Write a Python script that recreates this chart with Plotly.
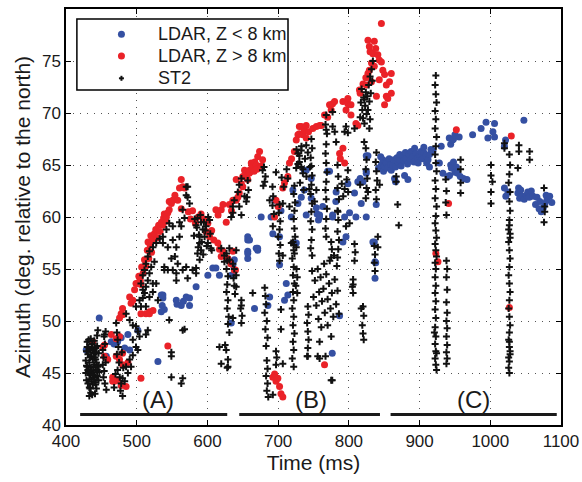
import plotly.graph_objects as go

# ---------------- data: (time in ms, azimuth in deg) ----------------
# LDAR sources below 8 km
ldar_low = [
    (428.6, 47.2), (447, 50.3), (464, 48.0), (473, 48.0), (483, 47.4), (490, 47.2), (487.5, 48.7),
    (501.6, 49.1), (457, 46.6), (530, 46.1), (478, 48.4), (468, 47.8),
    (534.7, 52.5), (537, 52.2), (539, 51.1), (534.7, 50.9), (536, 51.5), (537, 52.5), (556, 52.0),
    (557, 51.6), (563, 51.5), (566, 51.9), (570, 52.3), (574.7, 52.2), (574.7, 51.5), (584, 53.3),
    (600.6, 54.4), (607.6, 55.1), (612, 55.1), (617, 54.4), (633.7, 54.4), (636, 55.4), (638, 55.9),
    (636, 54.4), (633.7, 49.8),
    (657, 57.8), (657, 56.0), (671, 56.8), (657, 58.1), (657, 56.7), (669, 57.0), (659.5, 57.8),
    (671, 57.0), (657, 56.5), (676, 60.0), (690, 60.0), (695, 61.6), (692.5, 58.4), (702, 58.1),
    (704, 60.6), (666.6, 51.2), (688, 52.3), (685.5, 51.5), (702, 55.4), (711.5, 53.6), (713.7, 52.5),
    (709, 52.0), (720.8, 62.6), (718.6, 60.0), (725.6, 57.5), (728, 61.3), (732.7, 61.9), (737, 62.6),
    (737, 64.5), (739.7, 64.5), (739.7, 60.2), (746.8, 61.8), (746.8, 63.7), (755, 60.3), (757, 59.7),
    (754, 60.9), (758.6, 60.0), (758.6, 60.2), (763, 61.0), (770, 64.4), (772.7, 64.4), (777, 60.2),
    (777, 60.0), (781.6, 61.5), (782, 62.4), (786.9, 50.5), (776.5, 46.9), (791.6, 57.6), (796, 58.1),
    (794, 60.0), (798.6, 63.2), (801, 60.4), (808, 62.3), (810, 60.0), (812.7, 63.4), (816, 63.7),
    (817.5, 61.3), (820, 63.4), (824.6, 60.0), (824.6, 64.2), (824.6, 64.4), (824.6, 65.9),
    (827, 65.9), (834, 57.6), (836, 57.6), (837, 55.7), (837, 54.1), (838, 55.6), (838.7, 61.2),
    (842, 64.7),
    (845, 65.8), (846, 65.0), (848, 65.5), (849, 64.4), (850, 64.9), (852, 65.3), (853, 65.2),
    (855, 64.7), (857, 65.6), (859, 65.0), (860, 64.5), (862, 65.0), (864, 65.5), (866, 64.8),
    (868, 65.7), (870, 65.2), (871.7, 65.5), (872, 66.0), (874, 64.9), (876, 65.9), (878, 65.4),
    (880, 66.2), (881, 65.6), (883, 65.1), (885, 66.0), (887, 65.5), (888, 66.3), (890.5, 65.8),
    (892, 65.3), (893, 66.6), (895, 66.1), (897, 65.7), (898, 65.2), (900, 66.0), (902, 66.3),
    (904, 65.6), (906, 66.2), (906, 66.7), (909, 65.9), (910, 65.2), (912, 65.5), (914, 66.0),
    (914, 64.8), (916, 66.5), (919, 66.4),
    (864.6, 63.7), (866, 63.4), (878.8, 64.0), (883.5, 63.6),
    (928, 65.2), (930.6, 66.8), (933, 64.2), (940, 63.9), (942, 67.6), (942.4, 64.0), (944, 67.0),
    (944, 65.0), (945, 64.7), (946.6, 67.4), (948, 67.5), (948, 65.3), (950, 67.9), (950, 64.3),
    (952, 64.8), (954, 64.2), (956, 67.7), (957.5, 63.9), (962, 63.7), (967, 63.6), (975, 67.9),
    (987, 68.5), (994, 69.1), (996.6, 67.6), (1003.7, 68.2), (1006, 69.0), (1006, 67.7),
    (1020, 66.8), (1021.6, 67.4), (1047.5, 69.3),
    (1020, 62.8), (1022, 62.0), (1025, 62.4), (1039, 62.3), (1040, 62.8), (1041.5, 61.8),
    (1043, 62.6), (1045, 62.0), (1048, 61.7), (1051, 62.1), (1053, 62.4), (1055, 61.9),
    (1058, 62.5), (1060.5, 62.0), (1064, 61.2), (1066, 61.9), (1069, 60.8), (1070, 61.5),
    (1072, 60.5), (1075, 60.9), (1077, 61.3), (1079, 62.1), (1080, 61.6), (1084, 62.0), (1087, 61.4),
]

# LDAR sources above 8 km
ldar_high = [
    (438, 48.0), (452, 47.5), (454.5, 46.6), (454.5, 47.7), (459, 46.3), (464, 48.7), (466, 44.6),
    (466, 44.2), (468.6, 44.2), (471, 48.3), (471, 46.6), (473, 44.3), (475.7, 46.3), (475.7, 48.5),
    (475.7, 50.3), (478, 43.8), (478, 50.7), (480, 51.2), (480, 50.6), (480, 46.9), (480, 45.8),
    (485, 43.7), (487.5, 46.0), (490, 52.3), (492, 51.7), (494.5, 52.0), (497, 53.0), (499, 53.6),
    (501.6, 53.6), (504, 53.8), (505, 53.9), (506, 53.5), (506, 50.7), (506, 44.5), (513, 50.7),
    (518, 50.9), (518, 50.7), (523, 51.0), (544, 47.6),
    (503, 54.3), (507, 55.2), (509, 54.6), (511, 55.9), (513, 55.3), (515, 56.8), (516, 57.6),
    (517, 56.0), (519, 57.3), (520, 58.2), (521, 56.6), (523, 57.8), (525, 58.4), (527, 58.8),
    (529, 58.0), (531, 59.2), (533, 58.6), (535, 59.5), (537, 59.2), (538, 59.9), (539, 60.3),
    (541, 59.6), (542, 60.0), (544, 60.4), (546, 60.7), (546, 61.5), (549, 61.3), (551, 61.6),
    (554, 62.1), (558, 61.6), (560.5, 62.8), (563, 63.6), (563, 60.8), (565, 62.9), (567.6, 62.8),
    (573, 60.5), (576, 59.8), (579, 60.6), (583, 59.4), (587, 60.0), (591, 60.3), (595, 59.8),
    (598, 58.6), (600.6, 59.4), (603, 58.1), (606, 58.7), (609, 57.8), (614.7, 57.5), (617, 56.9),
    (619.5, 56.2), (622, 56.7), (628.8, 56.0), (633, 55.5), (639.7, 54.9), (638, 54.9), (636, 56.7),
    (612, 60.7), (615, 60.2), (619.5, 60.7), (622, 61.2), (626.6, 59.5), (631, 61.2), (634, 60.6),
    (636, 61.6), (640.7, 61.6), (640.7, 63.6), (643, 61.9), (645, 62.3), (648, 63.2), (650, 62.9),
    (650, 63.9), (652.5, 64.5), (655, 64.0), (657, 63.6), (659, 64.2), (659.5, 64.5), (660, 64.3),
    (662, 65.2), (663, 64.9), (664, 64.8), (666, 64.4), (667, 65.3), (669, 65.0), (670, 64.6),
    (671, 65.8), (673.7, 66.3), (676, 64.9), (678, 65.5),
    (695, 60.0), (697, 61.6), (700, 61.0), (706.6, 62.8), (709, 63.3), (713.7, 63.9), (716, 65.2),
    (719, 65.6), (723, 66.3), (725.6, 67.4), (728, 67.9), (730, 68.0), (730, 68.7), (732.7, 68.7),
    (735, 67.9), (737, 68.4), (739.7, 68.8), (739.7, 67.6), (743, 68.2), (749, 68.5), (754, 68.7),
    (758.6, 68.8), (761, 68.8), (765.6, 69.8), (770, 69.6), (772.7, 70.8), (775, 70.3), (777, 70.9),
    (779.8, 71.1), (786.9, 66.1), (788, 65.6), (791.6, 66.6), (794, 65.2), (791.6, 71.1), (796, 70.3),
    (798.6, 70.9), (798.6, 71.4), (803, 70.8), (803, 69.8), (810, 69.0), (812.7, 68.8), (815, 72.2),
    (816, 71.9), (820, 72.8), (824, 73.4), (825, 72.7), (827, 73.8), (827, 77.0), (829, 76.4),
    (829, 74.1), (830, 75.9), (832, 74.8), (832, 73.0), (834, 75.7), (836, 76.9), (836, 74.5),
    (838, 76.2), (839, 71.6), (841, 75.6), (843, 75.1), (843, 73.2), (846, 78.6), (846, 74.9),
    (848, 74.1), (850.5, 73.7), (850.5, 70.8), (853, 72.7), (853, 71.6), (855, 71.4), (857.5, 73.0),
    (860, 73.8), (860, 71.9),
    (692.5, 44.6), (695, 44.9), (697, 44.2), (699.6, 44.5), (702, 43.7), (704, 43.0), (706.6, 42.7),
    (765.6, 45.8),
    (923, 56.5), (926, 55.7), (941, 61.3), (952, 68.4), (1027, 51.3), (1029.7, 67.8),
]

# ST2 sources, interval (A)
st2_a = [
    (428, 45.0), (428, 46.2), (429, 44.3), (429, 47.1), (430, 45.6), (430, 48.0), (430, 47.5),
    (431, 44.0), (431, 46.8), (432, 45.2), (432, 47.5), (433, 43.6), (433, 46.0), (433, 42.8),
    (434, 44.8), (434, 47.2), (435, 45.5), (435, 48.3), (435, 43.1), (436, 44.2), (436, 46.6),
    (437, 45.0), (437, 47.8), (437, 42.9), (438, 43.9), (438, 46.3), (439, 44.6), (439, 47.0),
    (440, 45.8), (440, 48.1), (441, 44.1), (441, 46.5), (441, 43.0), (442, 45.3), (442, 47.4),
    (443, 43.5), (443, 46.0), (444, 44.7), (444, 47.6), (444, 48.6), (445, 45.6), (445, 49.1),
    (446, 44.3), (446, 46.9), (447, 45.1),
    (429, 45.7), (431, 45.3), (433, 44.4), (434, 46.5), (436, 45.2), (436, 47.4), (438, 44.8),
    (438, 47.3), (440, 44.4), (440, 46.9), (442, 43.9), (442, 46.3), (444, 45.3), (446, 45.7),
    (432, 48.2), (434, 43.5), (439, 45.6), (443, 47.0),
    (452, 47.2), (453, 46.5), (452, 45.8), (454, 45.2), (453, 44.6), (455, 44.0), (456, 46.0),
    (457, 43.4), (455, 47.8), (454, 48.5), (456, 49.0), (454.5, 48.7),
    (471, 49.8), (472, 48.9), (473, 48.2), (474, 47.5), (472, 46.8), (475, 46.0), (473, 45.3),
    (476, 44.6), (478, 44.0), (477, 43.3), (480, 42.8), (479, 47.0), (481, 45.5), (483, 44.2),
    (470, 44.9), (468, 43.6),
    (485, 50.7), (490, 50.1), (494.5, 49.6), (499, 49.5), (501.6, 49.0), (504, 48.5), (494.5, 48.2),
    (499, 47.5), (501.6, 47.2), (494.5, 46.7), (490, 46.3), (485, 45.6), (492, 45.6), (487.5, 45.0),
    (480, 44.5), (513, 48.7), (515.7, 49.1),
    (508.6, 52.2), (511, 52.7), (513, 53.3), (515.7, 53.9), (518, 54.6), (520.5, 55.2), (508.6, 53.0),
    (504, 52.0), (499, 51.4), (506, 51.4), (513, 51.4), (518, 52.3), (522.8, 52.8), (527.6, 53.6),
    (525, 55.7), (522.8, 53.6), (530, 52.0), (539, 54.9), (556, 53.9), (546, 50.1),
    (565, 49.1), (567.6, 49.2), (549, 47.0), (549, 46.6), (549, 44.6), (565, 44.5), (563, 44.0),
    (579, 54.9), (584, 54.6), (570, 55.2), (556, 54.6), (544, 54.9),
    (570, 62.9), (572, 62.9), (570, 62.1), (572, 61.9), (574.7, 61.3), (565, 60.7), (567.6, 59.9),
    (560.5, 59.5), (563, 59.1), (551, 59.1), (546, 59.4), (542, 58.8), (537, 58.1), (532.5, 57.9),
    (527.6, 57.5), (523, 57.1), (518, 56.7), (515.7, 56.2), (513, 55.5), (511, 54.9), (508.6, 54.4),
    (506, 53.6), (511, 52.7), (537, 57.5), (544, 57.1), (551, 57.8), (556, 57.1), (560.5, 58.1),
    (554, 56.2), (549, 56.0), (558, 55.5), (539, 55.2), (551, 54.9), (565, 54.9), (572, 54.1),
    (584, 55.1), (589, 55.9), (586, 56.5), (589, 57.5), (589, 58.1), (584, 59.2), (586, 59.9),
    (591, 59.5), (593.5, 58.8), (596, 58.1), (591, 56.8), (598, 59.1), (600.6, 57.5), (605, 57.0),
    (603, 59.7), (582, 59.8), (585, 59.0), (588, 58.3), (590, 60.2), (592, 57.6), (595, 59.5),
    (597, 58.7), (599, 57.2), (601, 60.0), (604, 58.4), (606, 56.8), (594, 56.4), (587, 57.1),
    (581, 58.2), (619.5, 57.0), (624, 56.3), (624, 55.7), (617, 47.5), (619.5, 45.9), (626.6, 47.2),
    (629, 45.6),
    (627, 56.5), (628, 55.8), (627, 55.0), (629, 54.3), (628, 53.5), (627, 52.8), (629, 52.0),
    (628, 51.2), (630, 50.4), (629, 49.7), (631, 48.9), (625, 47.7), (628, 45.5), (629, 46.3),
    (636, 55.5), (640.7, 56.8), (640.7, 54.4), (640.7, 53.3), (633.7, 60.0), (636, 61.0), (638, 61.6),
    (643, 62.4), (645, 63.1), (648, 63.7), (652.5, 62.0), (655, 61.5), (645, 61.0), (648, 60.2),
    (636, 60.4), (631, 57.0), (631, 55.9),
]

# ST2 sources, interval (B)
st2_b = [
    (657, 63.5), (658, 62.6), (656, 61.9), (680, 64.8), (682, 63.9), (679, 63.0), (678, 64.5),
    (681, 63.4), (688, 61.6), (692, 62.9), (693, 62.0), (692, 61.1), (694, 60.3), (692.5, 59.1),
    (697, 64.3), (705, 63.8), (712, 64.6), (708, 62.9), (713.7, 63.7), (716, 61.0), (706.6, 61.3),
    (702, 61.2), (701, 60.4), (703, 59.6), (702, 58.8), (700, 58.1), (703, 57.3), (701, 56.5),
    (702, 55.8), (706.6, 56.3), (718.6, 57.5), (725.6, 57.1),
    (726, 66.5), (730, 65.9), (733, 66.8), (728, 65.1), (735, 64.6), (738, 65.6), (742, 66.2),
    (740, 63.9), (731, 63.3), (745, 64.8), (744, 62.7), (736, 62.6), (728, 66.1), (732.7, 66.4),
    (739.7, 66.9), (732.7, 64.8), (730, 65.3), (725.6, 64.7), (735, 64.2),
    (747, 67.5), (748, 66.6), (746, 65.7), (747, 64.9), (748, 64.0), (747, 63.1), (746, 62.2),
    (748, 61.3), (747, 60.5), (746, 59.6), (748, 58.8), (747, 57.8), (746, 57.0), (748, 56.3),
    (723, 63.0), (722, 62.2), (724, 61.4), (723, 60.6), (722, 59.8), (723, 58.9), (724, 58.1),
    (722, 57.3), (723, 56.5), (754, 62.6), (751.5, 61.5),
    (768, 69.8), (767, 68.9), (769, 68.0), (768, 67.0), (767, 66.1), (768, 65.2), (769, 64.3),
    (768, 63.4), (767, 62.6), (768, 61.7), (769, 60.8), (768, 59.8), (767, 58.9), (768, 58.1),
    (784, 65.0), (785, 63.9), (784, 62.8), (786, 61.7), (784, 60.6), (785, 59.7), (784, 58.6),
    (786, 57.8), (785, 56.9), (784, 56.1), (783, 55.3), (784.5, 60.5),
    (790, 63.2), (794, 62.7), (797, 63.6), (792, 62.0), (799, 62.4), (798.6, 64.5), (801, 59.4),
    (796, 59.1), (782, 67.2), (794, 68.2), (808, 68.5), (821.7, 67.2), (816, 63.1), (827, 62.4),
    (824, 66.6), (825, 65.5), (824, 64.6), (826, 63.7), (825, 62.8), (824, 61.8),
    (839, 66.2), (838, 65.3), (839, 64.4), (840, 63.5), (838, 62.6), (839, 61.7), (841, 58.1),
    (841, 57.1),
    (817, 71.0), (819, 70.3), (821, 71.5), (823, 70.7), (825, 69.9), (820, 69.5), (827, 70.3),
    (829, 71.1), (824, 72.0), (828, 72.7), (830, 73.5), (832, 74.2), (833, 73.1), (834, 75.0),
    (831, 71.9), (826, 71.6), (822, 69.0), (830, 69.4), (818, 72.3), (816, 69.6), (822, 71.3),
    (796, 68.7), (798.6, 68.1), (777, 68.7), (780, 68.2), (768, 68.4), (829, 68.5), (777, 70.1),
    (648, 52.0), (647, 51.2), (649, 50.5), (648, 49.8), (648, 51.5), (638, 55.0), (637, 54.1),
    (638, 53.4), (639, 52.6), (636, 50.3), (664, 52.7),
    (681, 53.2), (682, 52.4), (683, 51.6), (681, 50.8), (684, 50.0), (682, 49.2), (685, 48.4),
    (683, 47.6), (684, 46.2), (685, 45.4), (683, 44.7), (685, 44.0), (684, 43.3), (686, 42.7),
    (697, 47.1), (698, 46.5), (697, 45.8), (692.5, 42.9), (704, 49.2), (706.6, 45.9), (704, 51.1),
    (721, 57.6), (722, 56.8), (720, 56.0), (722, 55.2), (721, 54.4), (723, 53.6), (721, 52.8),
    (722, 52.0), (720, 51.2), (722, 50.4), (721, 49.6), (723, 48.8), (721, 48.0), (722, 47.2),
    (720, 46.4), (722, 45.6), (726, 55.0), (727, 54.2), (725, 53.4), (727, 52.7),
    (742, 51.4), (743, 50.6), (741, 49.8), (742, 49.0), (743, 48.2), (742, 47.4), (741, 46.6),
    (742, 46.6),
    (748, 54.8), (752, 53.9), (756, 55.0), (760, 54.2), (764, 53.1), (768, 54.5), (772, 53.6),
    (776, 52.7), (780, 54.0), (784, 52.9), (750, 52.3), (754, 51.5), (758, 52.8), (762, 51.9),
    (766, 50.8), (770, 52.1), (774, 51.2), (778, 50.4), (782, 51.6), (786, 50.7), (757, 50.2),
    (761, 49.4), (765, 55.5), (773, 55.8), (779, 56.3), (770, 49.6),
    (775, 57.6), (776, 56.9), (775, 56.1), (808, 57.4), (809, 56.6), (808, 55.8), (806, 54.0),
    (805, 53.3), (806, 52.7), (806, 53.5),
    (820, 51.4), (821, 50.5), (819, 49.6), (820, 48.8), (821, 48.2), (817.5, 51.2),
    (836, 57.2), (837, 56.4), (836, 55.6), (837, 54.8),
    (775, 48.5), (758.6, 46.4), (767, 46.6), (775, 44.3), (758.6, 48.0), (756, 46.6), (776.5, 44.3),
]

# ST2 sources, interval (C)
st2_c = [
    (843.4, 63.1), (867, 63.9), (867, 63.4), (869, 61.2), (870.6, 59.2),
    (923, 73.6), (922, 72.7), (923, 71.8), (924, 71.0), (922, 70.2), (923, 69.4), (922, 68.5),
    (924, 67.7), (923, 66.8), (922, 66.0), (923, 65.2), (924, 64.4), (922, 63.5), (923, 62.7),
    (922, 61.8), (924, 61.0), (923, 60.1), (922, 59.4), (923, 58.7), (924, 58.0), (922, 57.4),
    (923, 56.8), (924, 56.2), (922, 55.6), (923, 55.0), (922, 54.2), (923, 53.4), (922, 52.7),
    (923, 51.9), (922, 51.1), (923, 50.3), (922, 49.4), (923, 48.5), (922, 47.8), (923, 47.1),
    (922, 46.4), (923, 45.8), (924, 45.3), (921, 48.9), (924, 46.9),
    (937, 63.6), (938, 62.5), (937, 61.4), (938, 60.2),
    (938, 55.8), (939, 55.0), (938, 54.2), (939, 53.0), (938, 51.8), (939, 50.8), (938, 50.0),
    (939, 49.3), (938, 48.5), (939, 47.7), (938, 47.0), (939, 46.4), (938, 45.9),
    (958, 65.5), (958, 64.6), (958, 63.3), (958, 62.3),
    (1001, 65.0), (1001, 64.0), (1003, 63.4), (1001, 62.4), (1001, 61.3),
    (1020, 67.1), (1020, 66.6), (1040.5, 66.9), (1040.5, 66.3), (1039, 64.7), (1055.6, 66.3),
    (1055.6, 65.5),
    (1027, 66.0), (1028, 65.0), (1027, 64.1), (1026, 63.3), (1028, 62.4), (1027, 61.5), (1028, 60.6),
    (1027, 59.7), (1026, 58.8), (1028, 58.0), (1027, 59.2), (1028, 58.4), (1026, 57.6), (1027, 56.8),
    (1028, 56.0), (1027, 55.2), (1026, 54.4), (1027, 53.6), (1028, 52.8), (1027, 52.0), (1026, 51.2),
    (1027, 50.4), (1028, 49.6), (1027, 48.9), (1026, 48.2), (1027, 47.5), (1028, 46.8), (1027, 46.1),
    (1026, 45.5), (1027, 45.0), (1028, 47.1), (1026, 46.5), (1027, 48.0),
    (1076, 62.8), (1077, 61.0), (1077, 60.5), (1076, 59.5),
]

# interval bars and their labels
intervals = ["(A)", "(B)", "(C)"]
interval_start = [420, 645, 859]
interval_end = [628, 844, 1094]
interval_label_t = [530, 747, 976]
bar_level = 41.0
label_level = 42.5

x_ticks = [400, 500, 600, 700, 800, 900, 1000, 1100]
y_ticks = [40, 45, 50, 55, 60, 65, 70, 75, 80]

series_names = ["LDAR, Z < 8 km", "LDAR, Z > 8 km", "ST2"]
BLUE, RED, BLACK = "#3550a2", "#ea2228", "#111111"
FONT = "Liberation Sans, Arial, Helvetica, sans-serif"
TEXT = "#1a1a1a"


def split(pairs):
    return [p[0] for p in pairs], [p[1] for p in pairs]


fig = go.Figure()

t_low, az_low = split(ldar_low)
t_high, az_high = split(ldar_high)
t_st2, az_st2 = split(st2_a + st2_b + st2_c)

fig.add_trace(go.Scatter(
    x=t_low, y=az_low, mode="markers", name=series_names[0], showlegend=False,
    marker=dict(color=BLUE, size=7, line=dict(width=0)),
))
fig.add_trace(go.Scatter(
    x=t_high, y=az_high, mode="markers", name=series_names[1], showlegend=False,
    marker=dict(color=RED, size=7, line=dict(width=0)),
))
fig.add_trace(go.Scatter(
    x=t_st2, y=az_st2, mode="markers", name=series_names[2], showlegend=False,
    marker=dict(symbol="cross-thin", color=BLACK, size=5,
                line=dict(width=2, color=BLACK)),
))

shapes = []
annotations = []

for lab, t0, t1, tl in zip(intervals, interval_start, interval_end, interval_label_t):
    shapes.append(dict(type="line", xref="x", yref="y", x0=t0, x1=t1, y0=bar_level, y1=bar_level,
                       line=dict(color=TEXT, width=3)))
    annotations.append(dict(x=tl, y=label_level, xref="x", yref="y", text=lab, showarrow=False,
                            font=dict(family=FONT, size=24, color=TEXT)))

# boxed key in the upper-left corner (paper coordinates, pixel-sized symbols)
key_box = dict(x0=0.022, x1=0.4485, y0=0.805, y1=0.976)
key_symbol_x = 0.112
key_text_x = 0.182
key_rows = [0.9392, 0.8870, 0.8334]

shapes.append(dict(type="rect", xref="paper", yref="paper", **key_box,
                   line=dict(color="#000000", width=1.5), fillcolor="white", layer="above"))
for row_y, color in zip(key_rows[:2], [BLUE, RED]):
    shapes.append(dict(type="circle", xref="paper", yref="paper",
                       xsizemode="pixel", ysizemode="pixel",
                       xanchor=key_symbol_x, yanchor=row_y,
                       x0=-3.5, x1=3.5, y0=-3.5, y1=3.5,
                       fillcolor=color, line=dict(width=0), layer="above"))
for dx0, dx1, dy0, dy1 in [(-2.5, 2.5, 0, 0), (0, 0, -2.5, 2.5)]:
    shapes.append(dict(type="line", xref="paper", yref="paper",
                       xsizemode="pixel", ysizemode="pixel",
                       xanchor=key_symbol_x, yanchor=key_rows[2],
                       x0=dx0, x1=dx1, y0=dy0, y1=dy1,
                       line=dict(color=BLACK, width=2), layer="above"))
for row_y, name in zip(key_rows, series_names):
    annotations.append(dict(x=key_text_x, y=row_y, xref="paper", yref="paper",
                            xanchor="left", yanchor="middle", text=name, showarrow=False,
                            font=dict(family=FONT, size=18, color=TEXT)))

axis_common = dict(
    showline=True, linecolor="#000000", linewidth=1.5, mirror="ticks",
    ticks="inside", ticklen=5, tickwidth=1, tickcolor="#000000",
    showgrid=True, gridcolor="#555555", gridwidth=1, griddash="1px,6px",
    zeroline=False, tickfont=dict(family=FONT, size=17, color=TEXT),
)

fig.update_xaxes(range=[400, 1100], tickvals=x_ticks, **axis_common,
                 title=dict(text="Time (ms)", font=dict(family=FONT, size=21, color=TEXT),
                            standoff=3))
fig.update_yaxes(range=[40, 80], tickvals=y_ticks, **axis_common,
                 title=dict(text="Azimuth (deg. relative to the north)",
                            font=dict(family=FONT, size=21, color=TEXT), standoff=6))

fig.update_layout(
    width=582, height=482,
    margin=dict(l=66, r=21, t=9, b=57, autoexpand=False),
    paper_bgcolor="white", plot_bgcolor="white",
    font=dict(family=FONT, color=TEXT),
    showlegend=False,
    shapes=shapes,
    annotations=annotations,
)

fig.write_html("out.html")
